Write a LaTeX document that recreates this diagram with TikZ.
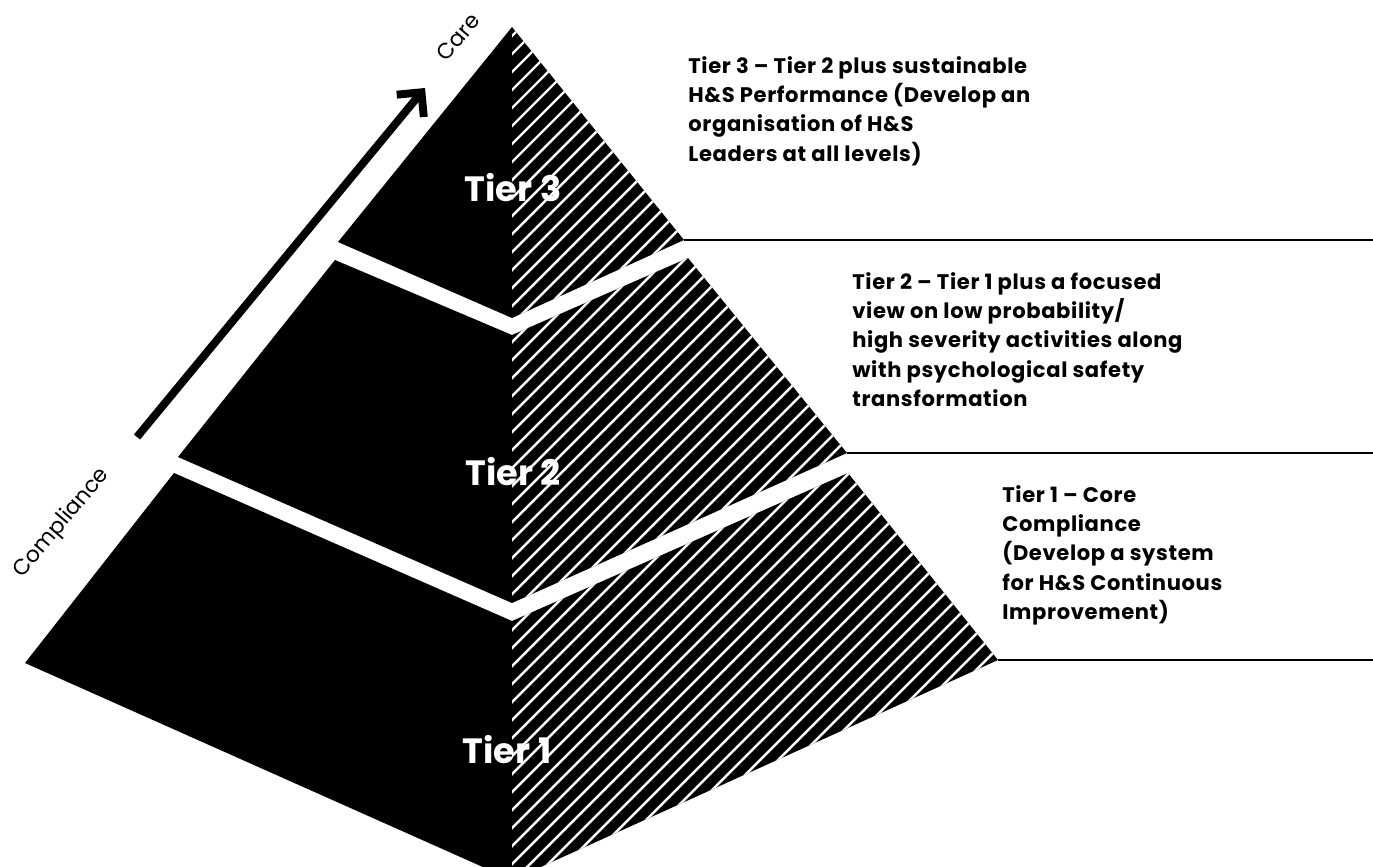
\documentclass[tikz,border=0pt]{standalone}
\usepackage{fontspec}
\setmainfont{Poppins}
\usetikzlibrary{arrows.meta}

\tikzset{
  desc/.style={anchor=north west, align=left, inner sep=0pt, font=\bfseries\fontsize{12}{16.7}\selectfont\addfontfeature{LetterSpace=3}},
  tierlabel/.style={text=white, inner sep=0pt, font=\bfseries\fontsize{20}{20}\selectfont},
  axislabel/.style={rotate=50, inner sep=0pt, font=\fontsize{12.5}{12.5}\selectfont},
  tierline/.style={line width=0.9pt},
  hatch/.style={white, line width=1.4pt}
}

\begin{document}
\begin{tikzpicture}[x=0.02cm,y=-0.02cm]
\useasboundingbox (0,0) rectangle (1373,866);

% corners of the three tiers
\coordinate (apex) at (512,27);
\coordinate (L3) at (338,242);
\coordinate (F3) at (512,318);
\coordinate (R3) at (684,240);
\coordinate (TL2) at (335,260);
\coordinate (TF2) at (512,335);
\coordinate (TR2) at (688,258);
\coordinate (BL2) at (178,457);
\coordinate (BF2) at (512,603);
\coordinate (BR2) at (847,453);
\coordinate (TL1) at (174,473);
\coordinate (TF1) at (512,621);
\coordinate (TR1) at (848,473);
\coordinate (BL1) at (25,663);
\coordinate (BF1) at (512,880);
\coordinate (BR1) at (998,660);

\begin{scope}
\clip (0,0) rectangle (1373,866);
% left faces
\fill (apex) -- (L3) -- (F3) -- cycle;
\fill (TL2) -- (TF2) -- (BF2) -- (BL2) -- cycle;
\fill (TL1) -- (TF1) -- (BF1) -- (BL1) -- cycle;
% right faces, hatched
\begin{scope}
\clip (apex) -- (F3) -- (R3) -- cycle;
\fill (400,0) rectangle (1100,900);
\foreach \k in {530,548,...,1910} \draw[hatch] (400,\k-400) -- (1100,\k-1100);
\end{scope}
\begin{scope}
\clip (TF2) -- (TR2) -- (BR2) -- (BF2) -- cycle;
\fill (400,0) rectangle (1100,900);
\foreach \k in {530,548,...,1910} \draw[hatch] (400,\k-400) -- (1100,\k-1100);
\end{scope}
\begin{scope}
\clip (TF1) -- (TR1) -- (BR1) -- (BF1) -- cycle;
\fill (400,0) rectangle (1100,900);
\foreach \k in {530,548,...,1910} \draw[hatch] (400,\k-400) -- (1100,\k-1100);
\end{scope}
\end{scope}

\node[tierlabel] (t3) at (513,188) {Tier 3};
\node[tierlabel] (t2) at (513,472) {Tier 2};
\node[tierlabel] (t1) at (507,750) {Tier 1};

% arrow from compliance to care
\coordinate (arrowstart) at (137,437);
\coordinate (arrowend) at (425,88);
\draw[line width=4.5pt,-{Straight Barb[length=10pt,width=20pt]}] (arrowstart) -- (arrowend);
\node[axislabel] (care) at (458,37) {Care};
\node[axislabel] (compliance) at (62,523) {Compliance};

% rules to the right
\coordinate (end3) at (1373,240);
\coordinate (end2) at (1373,453);
\coordinate (end1) at (1373,660);
\draw[tierline] (R3) -- (end3);
\draw[tierline] (BR2) -- (end2);
\draw[tierline] (BR1) -- (end1);

\node[desc] (d3) at (688,56) {Tier 3 – Tier 2 plus sustainable\\H\&S Performance (Develop an\\organisation of H\&S\\Leaders at all levels)};
\node[desc] (d2) at (852,272) {Tier 2 – Tier 1 plus a focused\\view on low probability/\\high severity activities along\\with psychological safety\\transformation};
\node[desc] (d1) at (1002,485) {Tier 1 – Core\\Compliance\\(Develop a system\\for H\&S Continuous\\Improvement)};
\end{tikzpicture}
\end{document}
